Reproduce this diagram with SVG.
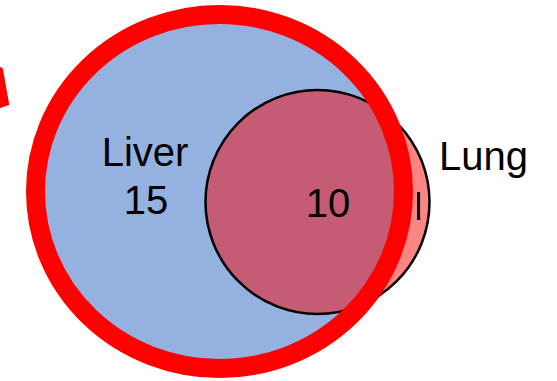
<svg xmlns="http://www.w3.org/2000/svg" width="557" height="381" viewBox="0 0 557 381">
<style>
.t{font-family:"Liberation Sans",Arial,sans-serif;font-size:40px;fill:#000;}
</style>
<defs>
<clipPath id="bigClip"><ellipse cx="219.5" cy="191.5" rx="184" ry="177"/></clipPath>
<clipPath id="oneClip"><rect x="417" y="150" width="3.3" height="100"/></clipPath>
</defs>
<rect width="557" height="381" fill="#fff"/>
<polygon points="0,67 2.7,68 9.3,105 0,108" fill="#ff0000"/>
<g id="liver">
<ellipse cx="219.5" cy="191.5" rx="184" ry="177" fill="#95b1df" stroke="#000" stroke-width="2"/>
<text class="t" x="145" y="166" text-anchor="middle">Liver</text>
<text class="t" x="146" y="214" text-anchor="middle">15</text>
</g>
<g id="lung">
<circle cx="317.5" cy="202" r="112" fill="#ff8585"/>
<circle cx="317.5" cy="202" r="112" fill="#c55c73" clip-path="url(#bigClip)"/>
<circle cx="317.5" cy="202" r="112" fill="none" stroke="#000" stroke-width="2.5"/>
<text class="t" x="328" y="217" text-anchor="middle">10</text>
<text class="t" x="406.5" y="220" clip-path="url(#oneClip)">1</text>
<text class="t" x="439" y="170">Lung</text>
</g>
<g id="highlight">
<ellipse cx="219.5" cy="191.5" rx="184" ry="177" fill="none" stroke="#ff0000" stroke-width="19"/>
</g>
</svg>
